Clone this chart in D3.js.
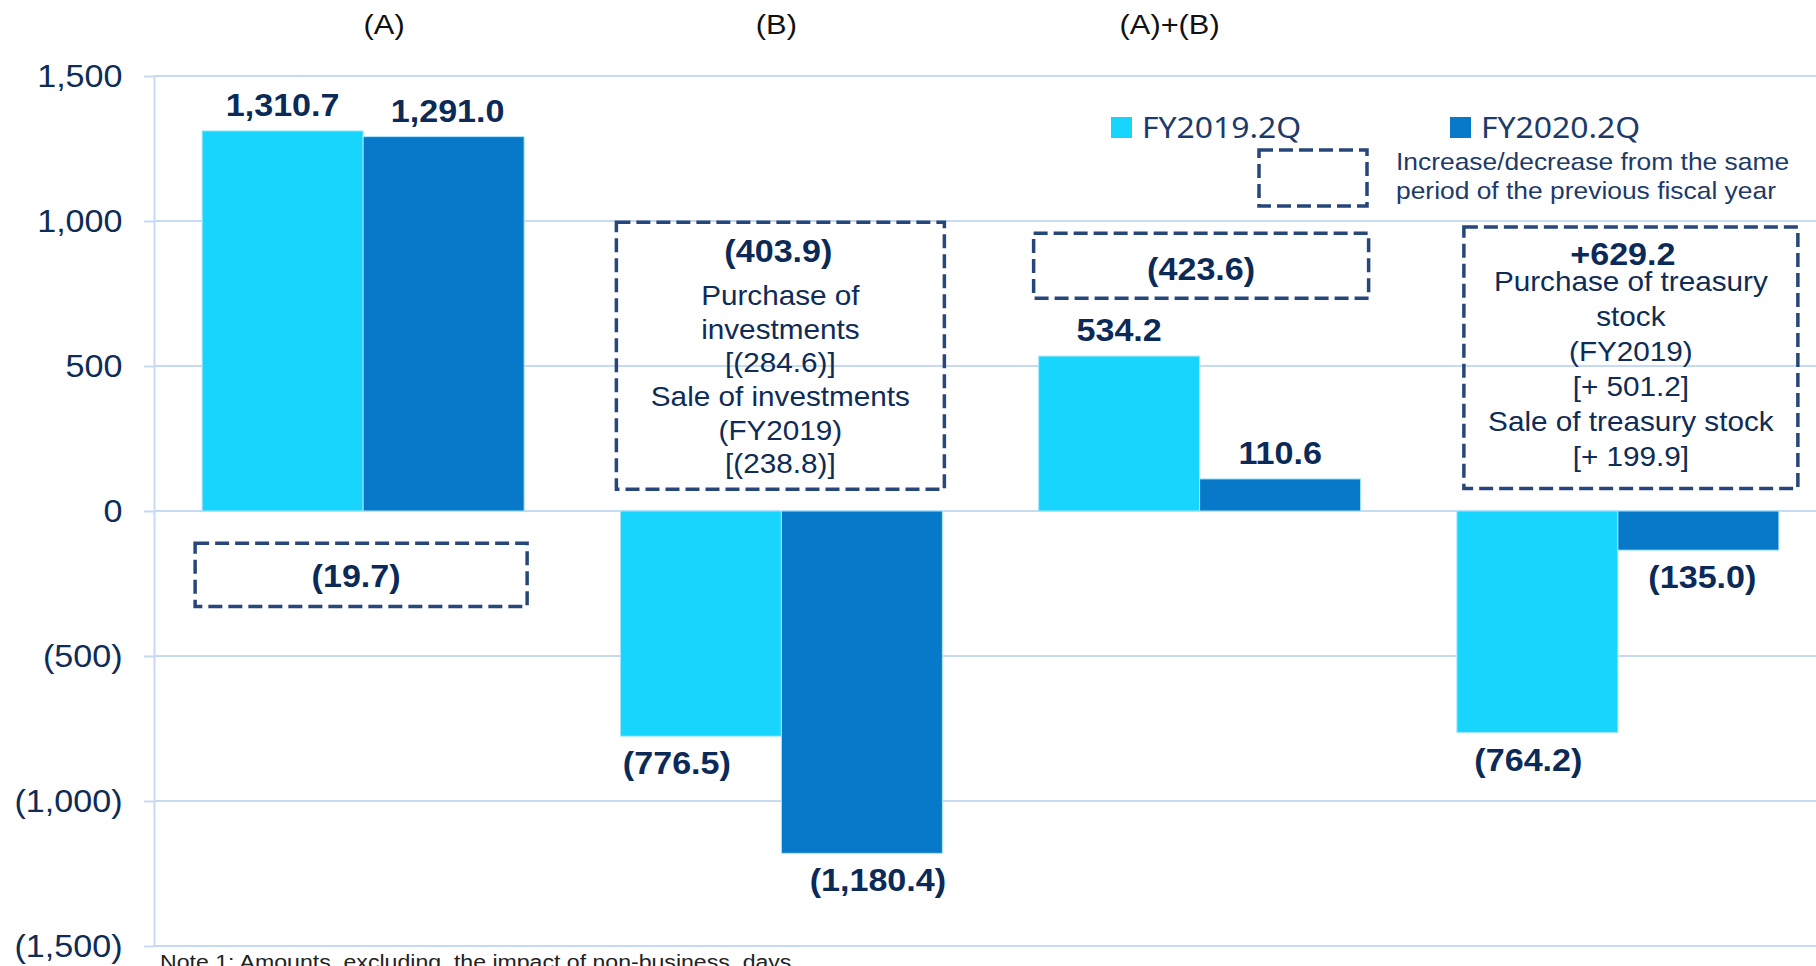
<!DOCTYPE html>
<html>
<head>
<meta charset="utf-8">
<title></title>
<style>
body{ margin:0; background:#fff; }
svg{ display:block; font-family:"Liberation Sans", Arial, sans-serif; }
.grid{ stroke:#c7daf3; stroke-width:2; }
.tick-label{ font-size:31px; fill:#0e2c56; }
.val{ font-size:31px; font-weight:bold; fill:#0b2a58; }
.note-box{ fill:none; stroke:#27477a; stroke-width:3.5; stroke-dasharray:14,6; }
.detail{ font-size:27px; fill:#0e2c56; }
.head{ font-size:28px; fill:#111; }
.legend{ font-family:"Noto Sans", sans-serif; font-size:29px; fill:#1d3a68; }
.legend-note{ font-size:24px; fill:#1d3a68; }
.foot{ font-size:21px; fill:#222; white-space:pre; }
</style>
<script src="https://d3js.org/d3.v7.min.js"></script>
</head>
<body>
<div id="chart"></div>
<script>
// values
var categories = ["(A)", "(B)", "(A)+(B)", ""];
var seriesNames = ["FY2019.2Q", "FY2020.2Q"];
var fy2019 = [1310.7, -776.5, 534.2, -764.2];
var fy2020 = [1291.0, -1180.4, 110.6, -135.0];
var changeLabels = ["(19.7)", "(403.9)", "(423.6)", "+629.2"];
var changeDetails = [
	[],
	["Purchase of", "investments", "[(284.6)]", "Sale of investments", "(FY2019)", "[(238.8)]"],
	[],
	["Purchase of treasury", "stock", "(FY2019)", "[+ 501.2]", "Sale of treasury stock", "[+ 199.9]"]
];
var yTicks = [1500, 1000, 500, 0, -500, -1000, -1500];
var legendNote = ["Increase/decrease from the same", "period of the previous fiscal year"];
var footNote = "Note 1: Amounts  excluding  the impact of non-business  days";

// layout
var width = 1816, height = 966;
var SX = 1.1; // text in the original is a little stretched sideways
var colors = ["#18d5fd", "#0779c8"];
var groupW = 322;
var headNudge = [21, -5, -30, 0];
var valNudge = [[0, -24, 0, -9], [4, 16, 0, 4]];
var boxLayout = [
	{dl: -7, dr: 3, top: -111, bottom: -329, head: 44, headDx: -5},
	{dl: -4, dr: 2, top: 996, bottom: 75, head: 40, headDx: -2, first: 83, gap: 33.6},
	{dl: -5, dr: 8, top: 958, bottom: 734, head: 47, headDx: 0},
	{dl: 7, dr: 19, top: 979, bottom: 78, head: 38, headDx: -8, first: 64, gap: 35}
];

var x0 = d3.scaleBand().domain(d3.range(categories.length)).range([154, 1827]);
var x1 = d3.scaleBand().domain(seriesNames).range([0, groupW]);
var y = d3.scaleLinear().domain([-1500, 1500]).range([946, 76]);

function groupLeft(i){ return x0(i) + (x0.bandwidth() - groupW) / 2; }
function groupCenter(i){ return x0(i) + x0.bandwidth() / 2; }

var fmtTick = function(d){ return d < 0 ? "(" + d3.format(",")(-d) + ")" : d3.format(",")(d); };
var fmtVal = function(d){ return d < 0 ? "(" + d3.format(",.1f")(-d) + ")" : d3.format(",.1f")(d); };

var svg = d3.select("#chart").append("svg")
	.attr("width", width)
	.attr("height", height);

function label(g, x, yy, s, cls, anchor){
	return g.append("text")
		.attr("class", cls)
		.attr("text-anchor", anchor || "middle")
		.attr("transform", "translate(" + x + "," + yy + ") scale(" + SX + ",1)")
		.text(s);
}

// gridlines
svg.append("g").selectAll("line")
	.data(yTicks)
	.enter().append("line")
	.attr("class", "grid")
	.attr("x1", 154).attr("x2", width)
	.attr("y1", function(d){ return y(d); })
	.attr("y2", function(d){ return y(d); });

// y axis
var yAxis = d3.axisLeft(y).tickValues(yTicks).tickFormat(fmtTick).tickSize(10).tickSizeOuter(0);
var ga = svg.append("g")
	.attr("transform", "translate(154,0)")
	.call(yAxis)
	.attr("font-size", null)
	.attr("font-family", null);
ga.select(".domain").attr("stroke", "#c7daf3").attr("stroke-width", 2);
ga.selectAll(".tick line").attr("stroke", "#c7daf3").attr("stroke-width", 2);
ga.selectAll(".tick text")
	.attr("class", "tick-label")
	.attr("x", 0)
	.attr("dy", "0.34em")
	.attr("transform", "translate(-31.5,0) scale(" + SX + ",1)");

// bars
var rows = categories.map(function(c, i){ return {i: i, values: [fy2019[i], fy2020[i]]}; });
var groups = svg.append("g").selectAll("g")
	.data(rows)
	.enter().append("g")
	.attr("transform", function(d){ return "translate(" + groupLeft(d.i) + ",0)"; });

groups.selectAll("rect")
	.data(function(d){ return seriesNames.map(function(s, k){ return {s: s, k: k, v: d.values[k]}; }); })
	.enter().append("rect")
	.attr("x", function(d){ return x1(d.s); })
	.attr("width", x1.bandwidth())
	.attr("y", function(d){ return y(Math.max(0, d.v)); })
	.attr("height", function(d){ return Math.abs(y(d.v) - y(0)); })
	.attr("fill", function(d){ return colors[d.k]; })
	.attr("stroke", "#a9e6fb")
	.attr("stroke-width", 1);

// value labels
var labels = svg.append("g");
[fy2019, fy2020].forEach(function(vals, k){
	vals.forEach(function(v, i){
		var cx = groupLeft(i) + x1(seriesNames[k]) + x1.bandwidth() / 2 + valNudge[k][i];
		var cy = v >= 0 ? y(v) - 15 : y(v) + 38;
		label(labels, cx, cy, fmtVal(v), "val");
	});
});

// headers
categories.forEach(function(c, i){
	if (c) label(svg, groupCenter(i) + headNudge[i], 34, c, "head");
});

// change boxes
var notes = svg.append("g");
boxLayout.forEach(function(b, i){
	var left = groupLeft(i) + b.dl, right = groupLeft(i) + groupW + b.dr;
	var top = y(b.top), bottom = y(b.bottom);
	notes.append("rect")
		.attr("class", "note-box")
		.attr("x", left).attr("y", top)
		.attr("width", right - left).attr("height", bottom - top);
	var cx = (left + right) / 2;
	label(notes, cx + b.headDx, top + b.head, changeLabels[i], "val");
	changeDetails[i].forEach(function(line, j){
		label(notes, cx, top + b.first + j * b.gap, line, "detail");
	});
});

// legend
var legend = svg.append("g");
var legendX = [1111, 1450];
seriesNames.forEach(function(s, k){
	legend.append("rect")
		.attr("x", legendX[k]).attr("y", 117)
		.attr("width", 21).attr("height", 21)
		.attr("fill", colors[k]);
	label(legend, legendX[k] + 31, 138, s, "legend", "start");
});
legend.append("rect")
	.attr("class", "note-box")
	.attr("x", 1259).attr("y", 150)
	.attr("width", 108).attr("height", 56);
legendNote.forEach(function(line, j){
	label(legend, 1396, 170 + j * 29, line, "legend-note", "start");
});

// footnote, cut by the bottom edge as in the original
label(svg, 160, 969, footNote, "foot", "start");
</script>
</body>
</html>
